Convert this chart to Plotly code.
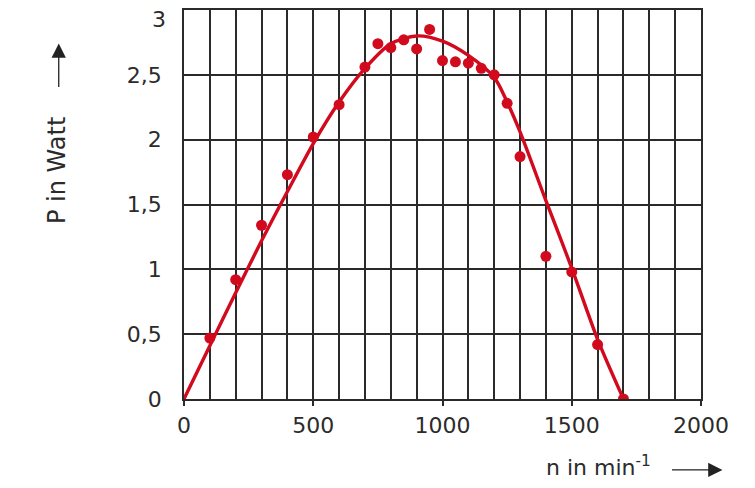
import plotly.graph_objects as go

# measured points
n_meas = [100, 200, 300, 400, 500, 600, 700, 750, 800, 850, 900, 950, 1000, 1050,
          1100, 1150, 1200, 1250, 1300, 1400, 1500, 1600, 1700]
p_meas = [0.47, 0.92, 1.34, 1.73, 2.02, 2.27, 2.56, 2.74, 2.71, 2.77, 2.70, 2.85, 2.61, 2.60,
          2.59, 2.55, 2.50, 2.28, 1.87, 1.10, 0.98, 0.42, 0.0]

# fitted curve
n_fit = [0, 100, 200, 300, 400, 500, 600, 700, 800, 900, 1000, 1100, 1200, 1250, 1300,
         1400, 1500, 1600, 1700]
p_fit = [0.0, 0.41, 0.82, 1.22, 1.60, 1.97, 2.29, 2.55, 2.74, 2.80, 2.76, 2.65, 2.48, 2.29,
         2.06, 1.53, 1.01, 0.46, 0.0]

x_ticks = [0, 500, 1000, 1500, 2000]
y_ticks = [0, 0.5, 1, 1.5, 2, 2.5, 3]
y_ticktext = ["0", "0,5", "1", "1,5", "2", "2,5", ""]

RED = "#d20a1e"
GRID = "#2a2a2a"
TXT = "#2b2b2b"
FONT = "DejaVu Sans"

fig = go.Figure()
fig.add_trace(go.Scatter(x=n_fit, y=p_fit, mode="lines",
                         line=dict(color=RED, width=3.4, shape="spline", smoothing=0.8),
                         hoverinfo="skip", showlegend=False))
fig.add_trace(go.Scatter(x=n_meas, y=p_meas, mode="markers",
                         marker=dict(color=RED, size=11), showlegend=False))

fig.update_layout(
    width=755, height=488,
    margin=dict(l=175.5, r=61.5, t=1.5, b=97, autoexpand=False),
    paper_bgcolor="white", plot_bgcolor="white",
    separators=",.",
    font=dict(family=FONT, size=22, color=TXT),
    xaxis=dict(range=[0, 2000], tickvals=x_ticks, ticks="outside", ticklen=5,
               tickcolor=GRID, tickwidth=1.5,
               showgrid=True, gridcolor=GRID, gridwidth=1.5,
               minor=dict(dtick=100, showgrid=True, gridcolor=GRID, gridwidth=1.5),
               showline=True, linecolor=GRID, linewidth=1.5, mirror=True,
               zeroline=False, tickfont=dict(size=22, color=TXT), ticklabelstandoff=1),
    yaxis=dict(range=[0, 3], tickvals=y_ticks, ticktext=y_ticktext, ticks="",
               showgrid=True, gridcolor=GRID, gridwidth=1.5,
               showline=True, linecolor=GRID, linewidth=1.5, mirror=True,
               zeroline=False, tickfont=dict(size=22, color=TXT), ticklabelstandoff=16),
)

# screen-pixel -> paper coordinates (plot area: x 183.5..701.5, y 9.5..399)
def px(x): return (x - 183.5) / 518
def py(y): return (399 - y) / 389.5

fig.add_annotation(x=px(167), y=py(19.5), xref="paper", yref="paper", text="3",
                   xanchor="right", yanchor="middle", showarrow=False,
                   font=dict(size=22, color=TXT))
fig.add_annotation(x=px(57), y=py(170), xref="paper", yref="paper", text="P in Watt",
                   textangle=-90, xanchor="center", yanchor="middle", showarrow=False,
                   font=dict(size=24, color=TXT))
fig.add_annotation(x=px(58), y=py(43), xref="paper", yref="paper", text="",
                   showarrow=True, ax=0, ay=45, arrowhead=2, arrowsize=2.2,
                   arrowwidth=1.3, arrowcolor="#222")
fig.add_annotation(x=px(599), y=py(466), xref="paper", yref="paper",
                   text="n in min<sup>-1</sup>", xanchor="center", yanchor="middle",
                   showarrow=False, font=dict(size=22, color=TXT))
fig.add_annotation(x=px(723), y=py(470), xref="paper", yref="paper", text="",
                   showarrow=True, ax=-52, ay=0, arrowhead=2, arrowsize=2.2,
                   arrowwidth=1.3, arrowcolor="#222")

fig.write_html("out.html")
